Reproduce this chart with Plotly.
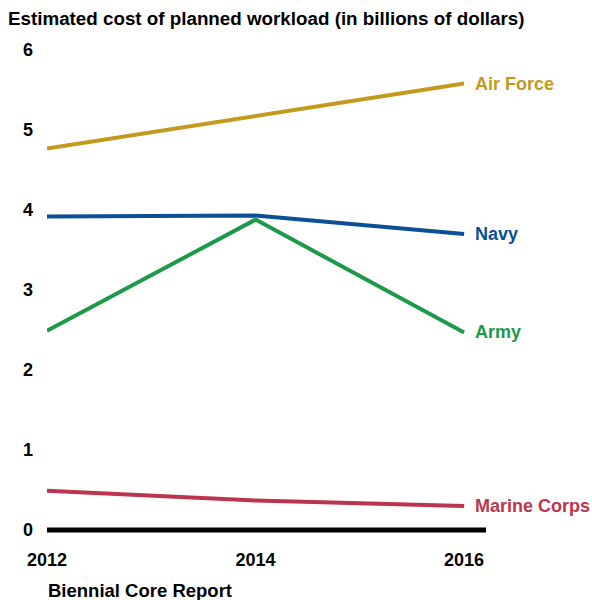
import plotly.graph_objects as go

years = [2012, 2014, 2016]
air_force = [4.77, 5.18, 5.58]
navy = [3.92, 3.93, 3.70]
army = [2.49, 3.88, 2.47]
marine_corps = [0.49, 0.37, 0.30]

series = [
    ("Air Force", air_force, "#C49A1E"),
    ("Navy", navy, "#0B4F96"),
    ("Army", army, "#1C9A4A"),
    ("Marine Corps", marine_corps, "#BD344E"),
]

y_ticks = [0, 1, 2, 3, 4, 5, 6]
x_ticks = [2012, 2014, 2016]
x_tick_labels = ["2012", "2014", "2016"]

FONT = "Liberation Sans, Arial, sans-serif"

fig = go.Figure()
for name, vals, color in series:
    fig.add_trace(go.Scatter(x=years, y=vals, mode="lines", name=name,
                             line=dict(color=color, width=4), cliponaxis=False,
                             hoverinfo="skip"))
    fig.add_annotation(x=years[-1], y=vals[-1], xref="x", yref="y", text="<b>%s</b>" % name,
                       showarrow=False, xanchor="left", yanchor="middle", xshift=9,
                       font=dict(family=FONT, size=18, color=color))

fig.add_shape(type="line", xref="paper", yref="y", x0=0, x1=1, y0=0, y1=0,
              line=dict(color="black", width=5), layer="below")

fig.add_annotation(x=-0.003, y=-0.116, xref="paper", yref="paper", text="<b>Biennial Core Report</b>",
                   showarrow=False, xanchor="left", yanchor="middle",
                   font=dict(family=FONT, size=18.5, color="black"))

fig.update_layout(
    width=592, height=600,
    margin=dict(l=47, r=106, t=50, b=66),
    paper_bgcolor="white", plot_bgcolor="white",
    showlegend=False,
    title=dict(text="<b>Estimated cost of planned workload (in billions of dollars)</b>",
               x=8 / 592, xanchor="left", xref="container",
               y=1 - 18 / 600, yanchor="middle", yref="container",
               font=dict(family=FONT, size=18.8, color="black")),
    xaxis=dict(range=[2012, 2016.21], tickvals=x_ticks, ticktext=x_tick_labels,
               showgrid=False, zeroline=False, showline=False, ticks="",
               tickfont=dict(family=FONT, size=18, color="black", weight="bold"),
               ticklabelstandoff=13),
    yaxis=dict(range=[-0.05, 6.0], tickvals=y_ticks, showgrid=False, zeroline=False,
               showline=False, ticks="",
               tickfont=dict(family=FONT, size=18, color="black", weight="bold"),
               ticklabelstandoff=13),
)

fig.write_html("out.html")
